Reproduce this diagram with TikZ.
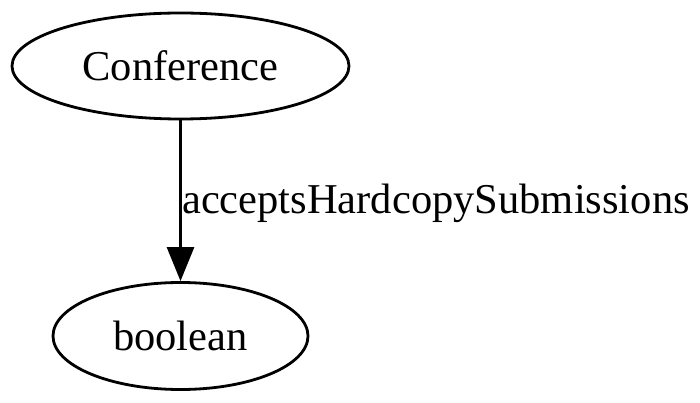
\documentclass[tikz,border=0pt]{standalone}
\usepackage{fontspec}
\setmainfont{Liberation Serif}
\usetikzlibrary{arrows.meta,positioning,shapes.geometric}
\tikzset{
  classnode/.style={draw=black, ellipse, line width=2.8pt, inner sep=0pt, font=\fontsize{42.5}{50}\selectfont},
  edgelabel/.style={inner sep=0pt, anchor=base west, font=\fontsize{42.5}{50}\selectfont},
  arrow/.style={-{Triangle[length=34pt,width=27pt]}, line width=2.8pt}
}
\begin{document}
\begin{tikzpicture}[x=1pt,y=-1pt]
\useasboundingbox (0,0) rectangle (700,403);
\node[classnode, minimum width=337pt, minimum height=106pt] (conf) at (180.5,66) {Conference};
\node[classnode, minimum width=255pt, minimum height=107pt] (bool) at (180.5,336) {boolean};
\draw[arrow] (conf) -- (bool);
\node[edgelabel] (prop) at (182,213) {acceptsHardcopySubmissions};
\end{tikzpicture}
\end{document}
